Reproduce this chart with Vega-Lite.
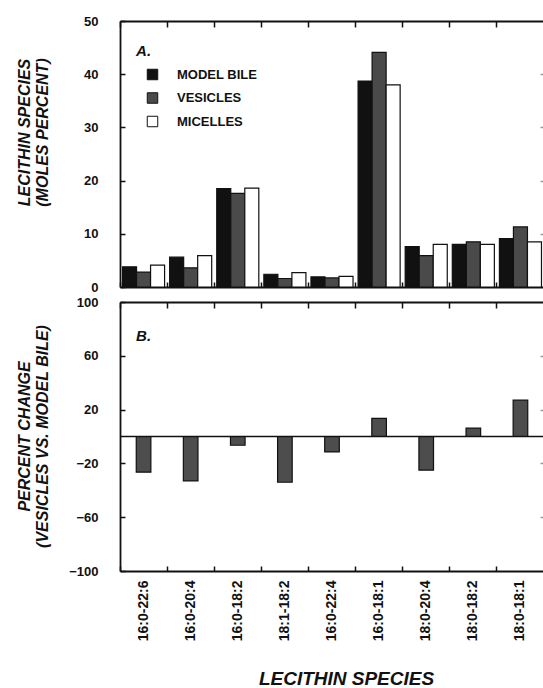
{
  "$schema": "https://vega.github.io/schema/vega-lite/v6.json",
  "background": "white",
  "padding": {"left": 15, "top": 15, "right": 0, "bottom": 0},
  "spacing": 2,
  "config": {
    "view": {"stroke": null},
    "font": "Liberation Sans",
    "axis": {
      "labelFont": "Liberation Sans", "labelFontWeight": "bold", "labelFontSize": 14, "labelColor": "#111",
      "titleFont": "Liberation Sans", "titleFontWeight": "bold", "titleFontStyle": "italic", "titleColor": "#111",
      "domainColor": "#111", "domainWidth": 1.8, "tickColor": "#111", "tickWidth": 1.5, "grid": false
    }
  },
  "datasets": {
    "composition": [
      {"species": "16:0-22:6", "group": "MODEL BILE", "value": 3.8},
      {"species": "16:0-22:6", "group": "VESICLES", "value": 2.8},
      {"species": "16:0-22:6", "group": "MICELLES", "value": 4.1},
      {"species": "16:0-20:4", "group": "MODEL BILE", "value": 5.6},
      {"species": "16:0-20:4", "group": "VESICLES", "value": 3.6},
      {"species": "16:0-20:4", "group": "MICELLES", "value": 5.9},
      {"species": "16:0-18:2", "group": "MODEL BILE", "value": 18.5},
      {"species": "16:0-18:2", "group": "VESICLES", "value": 17.6},
      {"species": "16:0-18:2", "group": "MICELLES", "value": 18.6},
      {"species": "18:1-18:2", "group": "MODEL BILE", "value": 2.4},
      {"species": "18:1-18:2", "group": "VESICLES", "value": 1.6},
      {"species": "18:1-18:2", "group": "MICELLES", "value": 2.7},
      {"species": "16:0-22:4", "group": "MODEL BILE", "value": 1.9},
      {"species": "16:0-22:4", "group": "VESICLES", "value": 1.7},
      {"species": "16:0-22:4", "group": "MICELLES", "value": 2.0},
      {"species": "16:0-18:1", "group": "MODEL BILE", "value": 38.7},
      {"species": "16:0-18:1", "group": "VESICLES", "value": 44.1},
      {"species": "16:0-18:1", "group": "MICELLES", "value": 38.0},
      {"species": "18:0-20:4", "group": "MODEL BILE", "value": 7.6},
      {"species": "18:0-20:4", "group": "VESICLES", "value": 5.9},
      {"species": "18:0-20:4", "group": "MICELLES", "value": 8.0},
      {"species": "18:0-18:2", "group": "MODEL BILE", "value": 8.0},
      {"species": "18:0-18:2", "group": "VESICLES", "value": 8.5},
      {"species": "18:0-18:2", "group": "MICELLES", "value": 8.0},
      {"species": "18:0-18:1", "group": "MODEL BILE", "value": 9.1},
      {"species": "18:0-18:1", "group": "VESICLES", "value": 11.3},
      {"species": "18:0-18:1", "group": "MICELLES", "value": 8.5}
    ],
    "change": [
      {"species": "16:0-22:6", "change": -26.5},
      {"species": "16:0-20:4", "change": -33},
      {"species": "16:0-18:2", "change": -6.5},
      {"species": "18:1-18:2", "change": -34},
      {"species": "16:0-22:4", "change": -11.5},
      {"species": "16:0-18:1", "change": 13.5},
      {"species": "18:0-20:4", "change": -25},
      {"species": "18:0-18:2", "change": 6.2},
      {"species": "18:0-18:1", "change": 27}
    ]
  },
  "vconcat": [
    {
      "width": 424,
      "height": 266,
      "data": {"name": "composition"},
      "layer": [
        {
          "mark": {"type": "bar", "stroke": "#111", "strokeWidth": 1.2},
          "encoding": {
            "x": {
              "field": "species", "type": "nominal", "sort": null,
              "scale": {"paddingInner": 0, "paddingOuter": 0},
              "axis": {"orient": "bottom", "title": null, "labels": false, "tickSize": -5, "bandPosition": 0}
            },
            "xOffset": {
              "field": "group", "type": "nominal", "sort": ["MODEL BILE", "VESICLES", "MICELLES"],
              "scale": {"paddingOuter": 0.18, "paddingInner": 0}
            },
            "y": {
              "field": "value", "type": "quantitative",
              "scale": {"domain": [0, 50], "nice": false},
              "axis": {
                "values": [0, 10, 20, 30, 40, 50], "tickSize": -5, "labelPadding": 27, "labelFontSize": 13,
                "title": ["LECITHIN SPECIES", "(MOLES PERCENT)"], "titleFontSize": 16, "titleLineHeight": 18,
                "titleX": -88, "titleY": 111, "titleAngle": -90, "titleBaseline": "bottom", "titleAlign": "center"
              }
            },
            "color": {
              "field": "group", "type": "nominal",
              "scale": {"domain": ["MODEL BILE", "VESICLES", "MICELLES"], "range": ["#111111", "#4a4a4a", "#ffffff"]},
              "legend": {
                "orient": "none", "legendX": 26, "legendY": 47, "title": null,
                "symbolType": "square", "symbolSize": 110, "symbolStrokeColor": "#111", "symbolStrokeWidth": 1,
                "labelFont": "Liberation Sans", "labelFontWeight": "bold", "labelFontSize": 13, "labelColor": "#111",
                "labelOffset": 18, "rowPadding": 8.5, "padding": 0
              }
            }
          }
        },
        {
          "mark": {"type": "point", "opacity": 0},
          "encoding": {
            "x": {
              "field": "species", "type": "nominal", "sort": null,
              "axis": {"orient": "top", "title": null, "labels": false, "tickSize": -6, "bandPosition": 0}
            },
            "y": {
              "field": "value", "type": "quantitative",
              "axis": {"orient": "right", "title": null, "labels": false, "domain": false, "values": [10, 20, 30, 40], "tickSize": -4, "tickColor": "#999"}
            }
          }
        },
        {
          "data": {"values": [{"species": "16:0-22:6", "value": 44.4, "label": "A."}]},
          "mark": {"type": "text", "font": "Liberation Sans", "fontWeight": "bold", "fontStyle": "italic", "fontSize": 15, "color": "#111"},
          "encoding": {
            "x": {"field": "species", "type": "nominal", "sort": null, "axis": null},
            "y": {"field": "value", "type": "quantitative", "axis": null},
            "text": {"field": "label"}
          }
        }
      ],
      "resolve": {"axis": {"x": "independent", "y": "independent"}}
    },
    {
      "width": 424,
      "height": 269,
      "data": {"name": "change"},
      "layer": [
        {
          "mark": {"type": "bar", "color": "#4d4d4d", "stroke": "#111", "strokeWidth": 1.2, "width": {"band": 0.31}},
          "encoding": {
            "x": {
              "field": "species", "type": "nominal", "sort": null,
              "scale": {"paddingInner": 0, "paddingOuter": 0},
              "axis": {
                "orient": "bottom", "title": "LECITHIN SPECIES", "titleFontSize": 19,
                "titleX": 226, "titleY": 98, "titleBaseline": "top", "titleAlign": "center",
                "labelAngle": -90, "labelAlign": "right", "labelBaseline": "middle", "labelPadding": 14,
                "tickSize": -5, "bandPosition": 0
              }
            },
            "y": {
              "field": "change", "type": "quantitative",
              "scale": {"domain": [-100, 100], "nice": false},
              "axis": {
                "values": [-100, -60, -20, 20, 60, 100], "tickSize": -5, "labelPadding": 27, "labelFontSize": 13,
                "title": ["PERCENT CHANGE", "(VESICLES VS. MODEL BILE)"], "titleFontSize": 16, "titleLineHeight": 18,
                "titleX": -88, "titleY": 134, "titleAngle": -90, "titleBaseline": "bottom", "titleAlign": "center"
              }
            }
          }
        },
        {
          "data": {"values": [{"zero": 0}]},
          "mark": {"type": "rule", "color": "#111", "strokeWidth": 1.5},
          "encoding": {"y": {"field": "zero", "type": "quantitative", "axis": null}}
        },
        {
          "mark": {"type": "point", "opacity": 0},
          "encoding": {
            "x": {
              "field": "species", "type": "nominal", "sort": null,
              "axis": {"orient": "top", "title": null, "labels": false, "tickSize": -6, "bandPosition": 0}
            },
            "y": {
              "field": "change", "type": "quantitative",
              "axis": {"orient": "right", "title": null, "labels": false, "domain": false, "values": [-60, -20, 20, 60], "tickSize": -4, "tickColor": "#999"}
            }
          }
        },
        {
          "data": {"values": [{"species": "16:0-22:6", "change": 74.6, "label": "B."}]},
          "mark": {"type": "text", "font": "Liberation Sans", "fontWeight": "bold", "fontStyle": "italic", "fontSize": 15, "color": "#111"},
          "encoding": {
            "x": {"field": "species", "type": "nominal", "sort": null, "axis": null},
            "y": {"field": "change", "type": "quantitative", "axis": null},
            "text": {"field": "label"}
          }
        }
      ],
      "resolve": {"axis": {"x": "independent", "y": "independent"}}
    }
  ]
}
